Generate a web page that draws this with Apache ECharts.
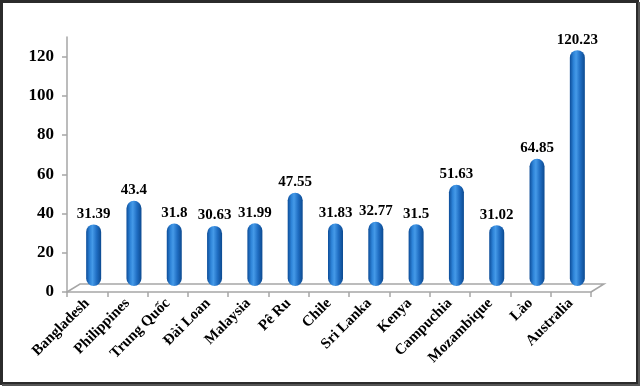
<!DOCTYPE html>
<html>
<head>
<meta charset="utf-8">
<script src="https://cdn.jsdelivr.net/npm/echarts@6/dist/echarts.min.js"></script>
<style>
html,body{margin:0;padding:0;background:#fff;}
#c{width:640px;height:386px;}
</style>
</head>
<body>
<div id="c"></div>
<script>
const categories = ['Bangladesh','Philippines','Trung Quốc','Đài Loan','Malaysia','Pê Ru','Chile','Sri Lanka','Kenya','Campuchia','Mozambique','Lào','Australia'];
const values = [31.39, 43.4, 31.8, 30.63, 31.99, 47.55, 31.83, 32.77, 31.5, 51.63, 31.02, 64.85, 120.23];
const yTicks = [0, 20, 40, 60, 80, 100, 120];

const W = 640, H = 386;
const gL = 67, gR = 591, gT = 37, gB = 292;   // front plane of the chart
const depthX = 13, depthY = 8;               // 3D floor depth
const barDX = 6.5, barDY = 6;                // bars sit mid-depth
const serif = '"Liberation Serif","Times New Roman",serif';
const gray = '#a6a6a6';

const chart = echarts.init(document.getElementById('c'), null, {renderer: 'canvas'});
chart.setOption({
  animation: false,
  backgroundColor: '#fff',
  grid: [
    {left: gL, right: W - gR, top: gT, bottom: H - gB},
    {left: gL + barDX, right: W - gR - barDX, top: gT - barDY, bottom: H - gB + barDY}
  ],
  xAxis: [
    {
      type: 'category', gridIndex: 0, data: categories,
      axisLine: {lineStyle: {color: gray, width: 1.5}},
      axisTick: {show: true, length: 5, lineStyle: {color: gray, width: 1.5}},
      axisLabel: {rotate: 45, margin: 9, color: '#000', fontFamily: serif, fontWeight: 'bold', fontSize: 15, interval: 0}
    },
    {
      type: 'category', gridIndex: 1, data: categories,
      axisLine: {show: false}, axisTick: {show: false}, axisLabel: {show: false}
    }
  ],
  yAxis: [
    {
      type: 'value', gridIndex: 0, min: 0, max: 130,
      axisLine: {show: true, lineStyle: {color: gray, width: 1.5}},
      axisTick: {show: true, length: 5, lineStyle: {color: gray, width: 1.5}, customValues: yTicks},
      axisLabel: {margin: 13, color: '#000', fontFamily: serif, fontWeight: 'bold', fontSize: 17, customValues: yTicks},
      splitLine: {show: false}
    },
    {
      type: 'value', gridIndex: 1, min: 0, max: 130,
      axisLine: {show: false}, axisTick: {show: false}, axisLabel: {show: false}, splitLine: {show: false}
    }
  ],
  series: [{
    type: 'bar', xAxisIndex: 1, yAxisIndex: 1,
    data: values,
    barWidth: 15,
    itemStyle: {
      borderRadius: 7.5,
      color: new echarts.graphic.LinearGradient(0, 0, 1, 0, [
        {offset: 0, color: '#0c4c98'},
        {offset: 0.25, color: '#2e84d8'},
        {offset: 0.42, color: '#459ae8'},
        {offset: 0.7, color: '#1f6dc2'},
        {offset: 1, color: '#0c4a90'}
      ])
    },
    label: {
      show: true, position: 'top', distance: 3,
      color: '#000', fontFamily: serif, fontWeight: 'bold', fontSize: 15
    },
    z: 3
  }],
  graphic: [
    {type: 'polyline', silent: true, z: 1,
     shape: {points: [[gL, gB], [gL + depthX, gB - depthY], [gR + depthX, gB - depthY], [gR, gB]]},
     style: {stroke: gray, lineWidth: 1.5, fill: null}},
    {type: 'rect', silent: true, z: 10,
     shape: {x: 1.5, y: 1.5, width: W - 4, height: H - 4},
     style: {stroke: '#2b2b2b', lineWidth: 3, fill: null}},
    {type: 'polyline', silent: true, z: 10,
     shape: {points: [[W - 1, 2], [W - 1, H - 1], [2, H - 1]]},
     style: {stroke: '#555', lineWidth: 2, fill: null}}
  ]
});
</script>
</body>
</html>
